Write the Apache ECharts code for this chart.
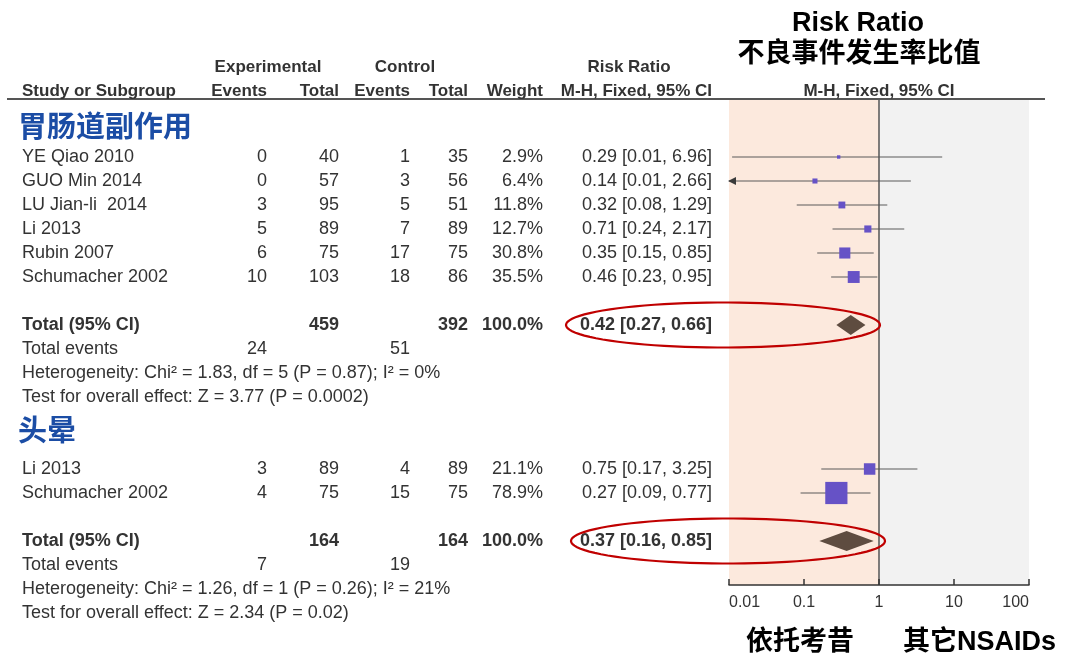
<!DOCTYPE html>
<html>
<head>
<meta charset="utf-8">
<script src="https://cdn.jsdelivr.net/npm/echarts@6/dist/echarts.min.js"></script>
<style>
html, body { margin: 0; background: #fff; }
#chart { width: 1069px; height: 656px; }
</style>
</head>
<body>
<div id="chart"></div>
<script>
// 胃肠道副作用
const g1Studies = ['YE Qiao 2010', 'GUO Min 2014', 'LU Jian-li  2014', 'Li 2013', 'Rubin 2007', 'Schumacher 2002'];
const g1ExpEvents = [0, 0, 3, 5, 6, 10];
const g1ExpTotal = [40, 57, 95, 89, 75, 103];
const g1CtrlEvents = [1, 3, 5, 7, 17, 18];
const g1CtrlTotal = [35, 56, 51, 89, 75, 86];
const g1Weight = [2.9, 6.4, 11.8, 12.7, 30.8, 35.5];
const g1RR = [0.29, 0.14, 0.32, 0.71, 0.35, 0.46];
const g1Lo = [0.011, 0.007, 0.08, 0.24, 0.15, 0.23];
const g1Hi = [6.96, 2.66, 1.29, 2.17, 0.85, 0.95];
const g1Pooled = [0.42, 0.27, 0.66];
const g1TotalN = [459, 392];
const g1TotalEvents = [24, 51];
const g1Het = 'Heterogeneity: Chi² = 1.83, df = 5 (P = 0.87); I² = 0%';
const g1Effect = 'Test for overall effect: Z = 3.77 (P = 0.0002)';

// 头晕
const g2Studies = ['Li 2013', 'Schumacher 2002'];
const g2ExpEvents = [3, 4];
const g2ExpTotal = [89, 75];
const g2CtrlEvents = [4, 15];
const g2CtrlTotal = [89, 75];
const g2Weight = [21.1, 78.9];
const g2RR = [0.75, 0.27];
const g2Lo = [0.17, 0.09];
const g2Hi = [3.25, 0.77];
const g2Pooled = [0.37, 0.16, 0.85];
const g2TotalN = [164, 164];
const g2TotalEvents = [7, 19];
const g2Het = 'Heterogeneity: Chi² = 1.26, df = 1 (P = 0.26); I² = 21%';
const g2Effect = 'Test for overall effect: Z = 2.34 (P = 0.02)';

const axisTicks = [0.01, 0.1, 1, 10, 100];
const axisTickLabels = ['0.01', '0.1', '1', '10', '100'];

// layout
const FONT = "'Liberation Sans', Arial, 'Noto Sans CJK SC', sans-serif";
const TXT = '#333';
const col = { name: 22, expEv: 267, expTot: 339, ctlEv: 410, ctlTot: 468, weight: 543, ci: 712 };

const ciText = (rr, lo, hi) => rr.toFixed(2) + ' [' + lo.toFixed(2) + ', ' + hi.toFixed(2) + ']';

const cells = [];
function cell(x, row, text, align, opts) {
  cells.push(Object.assign({ x: x, row: row, text: String(text), align: align, size: 18, bold: false, color: TXT }, opts || {}));
}

// titles
const bigBlack = { size: 27, bold: true, color: '#000' };
cell(858, -5.55, 'Risk Ratio', 'center', bigBlack);
cell(859, -4.25, '不良事件发生率比值', 'center', bigBlack);
cell(800, 20.25, '依托考昔', 'center', bigBlack);
cell(903, 20.25, '其它NSAIDs', 'left', bigBlack);

// header
const hd = { size: 17, bold: true };
cell(268, -3.75, 'Experimental', 'center', hd);
cell(405, -3.75, 'Control', 'center', hd);
cell(629, -3.75, 'Risk Ratio', 'center', hd);
cell(col.name, -2.75, 'Study or Subgroup', 'left', hd);
cell(col.expEv, -2.75, 'Events', 'right', hd);
cell(col.expTot, -2.75, 'Total', 'right', hd);
cell(col.ctlEv, -2.75, 'Events', 'right', hd);
cell(col.ctlTot, -2.75, 'Total', 'right', hd);
cell(col.weight, -2.75, 'Weight', 'right', hd);
cell(col.ci, -2.75, 'M-H, Fixed, 95% CI', 'right', hd);
cell(879, -2.75, 'M-H, Fixed, 95% CI', 'center', hd);

const forestRows = [];
const pooledRows = [];

function addGroup(title, titleRow, startRow, studies, ee, et, ce, ct, w, rr, lo, hi, pooled, totN, totEv, het, eff, scale) {
  cell(18, titleRow, title, 'left', { size: 29, bold: true, color: '#1B4DA5' });
  studies.forEach((s, i) => {
    const r = startRow + i;
    cell(col.name, r, s, 'left');
    cell(col.expEv, r, ee[i], 'right');
    cell(col.expTot, r, et[i], 'right');
    cell(col.ctlEv, r, ce[i], 'right');
    cell(col.ctlTot, r, ct[i], 'right');
    cell(col.weight, r, w[i].toFixed(1) + '%', 'right');
    cell(col.ci, r, ciText(rr[i], lo[i], hi[i]), 'right');
    forestRows.push({ rr: rr[i], lo: lo[i], hi: hi[i], w: w[i], row: r, scale: scale });
  });
  const tr = startRow + studies.length + 1;
  const b = { bold: true };
  cell(col.name, tr, 'Total (95% CI)', 'left', b);
  cell(col.expTot, tr, totN[0], 'right', b);
  cell(col.ctlTot, tr, totN[1], 'right', b);
  cell(col.weight, tr, '100.0%', 'right', b);
  cell(col.ci, tr, ciText(pooled[0], pooled[1], pooled[2]), 'right', b);
  cell(col.name, tr + 1, 'Total events', 'left');
  cell(col.expEv, tr + 1, totEv[0], 'right');
  cell(col.ctlEv, tr + 1, totEv[1], 'right');
  cell(col.name, tr + 2, het, 'left');
  cell(col.name, tr + 3, eff, 'left');
  pooledRows.push({ rr: pooled[0], lo: pooled[1], hi: pooled[2], row: tr });
}

addGroup('胃肠道副作用', -1.17, 0, g1Studies, g1ExpEvents, g1ExpTotal, g1CtrlEvents, g1CtrlTotal,
  g1Weight, g1RR, g1Lo, g1Hi, g1Pooled, g1TotalN, g1TotalEvents, g1Het, g1Effect, 2.0);
addGroup('头晕', 11.5, 13, g2Studies, g2ExpEvents, g2ExpTotal, g2CtrlEvents, g2CtrlTotal,
  g2Weight, g2RR, g2Lo, g2Hi, g2Pooled, g2TotalN, g2TotalEvents, g2Het, g2Effect, 2.5);

const ellipses = pooledRows.map((p, i) => [i === 0 ? 723 : 728, p.row]);

const chart = echarts.init(document.getElementById('chart'));
chart.setOption({
  animation: false,
  backgroundColor: '#fff',
  grid: [
    { left: 0, width: 1069, top: 61, height: 576, outerBoundsMode: 'none' },
    { left: 729, width: 300, top: 100, height: 485, outerBoundsMode: 'none' }
  ],
  xAxis: [
    { gridIndex: 0, type: 'value', min: 0, max: 1069, show: false },
    {
      gridIndex: 1, type: 'log', logBase: 10, position: 'bottom', z: 20,
      min: axisTicks[0], max: axisTicks[axisTicks.length - 1],
      axisLine: { show: true, onZero: false, lineStyle: { color: '#333', width: 1.5 } },
      axisTick: { show: true, inside: true, length: 6, lineStyle: { color: '#333', width: 1.5 } },
      splitLine: { show: false },
      axisLabel: {
        show: true, margin: 10, color: TXT, fontSize: 16, fontFamily: FONT,
        showMinLabel: true, showMaxLabel: true, alignMinLabel: 'left', alignMaxLabel: 'right',
        formatter: v => { const i = axisTicks.findIndex(t => Math.abs(t - v) / t < 1e-6); return i >= 0 ? axisTickLabels[i] : ''; }
      }
    }
  ],
  yAxis: [
    { gridIndex: 0, type: 'value', inverse: true, min: -4, max: 20, show: false },
    { gridIndex: 1, type: 'value', inverse: true, min: -2.375, max: 17.8333, show: false }
  ],
  series: [
    {
      name: 'table', type: 'custom', xAxisIndex: 0, yAxisIndex: 0, clip: false, silent: true, z: 5,
      data: cells.map(c => [c.x, c.row]),
      renderItem: (params, api) => {
        const c = cells[params.dataIndex];
        const p = api.coord([api.value(0), api.value(1)]);
        return {
          type: 'text', x: p[0], y: p[1],
          style: {
            text: c.text, textAlign: c.align, textVerticalAlign: 'middle',
            fontFamily: FONT, fontSize: c.size, fontWeight: c.bold ? 'bold' : 'normal', fill: c.color
          }
        };
      },
      markLine: {
        silent: true, symbol: 'none', label: { show: false },
        lineStyle: { color: '#555', width: 2, type: 'solid' },
        data: [[{ coord: [7, -2.42] }, { coord: [1045, -2.42] }]]
      }
    },
    {
      name: 'ellipse', type: 'custom', xAxisIndex: 0, yAxisIndex: 0, clip: false, silent: true, z: 10,
      data: ellipses,
      renderItem: (params, api) => {
        const c = api.coord([api.value(0), api.value(1)]);
        const pts = [];
        for (let k = 0; k < 90; k++) {
          const a = k / 90 * Math.PI * 2;
          pts.push([c[0] + 157 * Math.cos(a), c[1] + 22.5 * Math.sin(a)]);
        }
        return { type: 'polygon', shape: { points: pts }, style: { fill: 'none', stroke: '#C00000', lineWidth: 2.2 } };
      }
    },
    {
      name: 'ci', type: 'custom', xAxisIndex: 1, yAxisIndex: 1, clip: false, silent: true, z: 3,
      data: forestRows.map(f => [f.lo, f.row, f.hi]),
      renderItem: (params, api) => {
        const lo = api.value(0), row = api.value(1), hi = api.value(2);
        const min = axisTicks[0];
        const p1 = api.coord([Math.max(lo, min), row]);
        const p2 = api.coord([hi, row]);
        const children = [{
          type: 'line', shape: { x1: p1[0], y1: p1[1], x2: p2[0], y2: p2[1] },
          style: { stroke: '#5a5a5a', lineWidth: 1.2 }
        }];
        if (lo < min) {
          children.push({
            type: 'polygon',
            shape: { points: [[p1[0] - 1, p1[1]], [p1[0] + 7, p1[1] - 4], [p1[0] + 7, p1[1] + 4]] },
            style: { fill: '#3a3a3a' }
          });
        }
        return { type: 'group', children: children };
      },
      markArea: {
        silent: true,
        data: [
          [{ xAxis: 0.01, itemStyle: { color: '#FCE9DD' } }, { xAxis: 1 }],
          [{ xAxis: 1, itemStyle: { color: '#F2F2F2' } }, { xAxis: 100 }]
        ]
      },
      markLine: {
        silent: true, symbol: 'none', label: { show: false },
        lineStyle: { color: '#555', width: 1.5, type: 'solid' },
        data: [{ xAxis: 1 }]
      }
    },
    {
      name: 'g1 studies', type: 'scatter', xAxisIndex: 1, yAxisIndex: 1, silent: true, z: 4,
      symbol: 'rect', itemStyle: { color: '#6652C6', opacity: 1 },
      symbolSize: v => 2.0 * Math.sqrt(v[2]),
      data: forestRows.filter(f => f.scale === 2.0).map(f => [f.rr, f.row, f.w])
    },
    {
      name: 'g2 studies', type: 'scatter', xAxisIndex: 1, yAxisIndex: 1, silent: true, z: 4,
      symbol: 'rect', itemStyle: { color: '#6652C6', opacity: 1 },
      symbolSize: v => 2.5 * Math.sqrt(v[2]),
      data: forestRows.filter(f => f.scale === 2.5).map(f => [f.rr, f.row, f.w])
    },
    {
      name: 'pooled', type: 'custom', xAxisIndex: 1, yAxisIndex: 1, clip: false, silent: true, z: 4,
      data: pooledRows.map(p => [p.rr, p.row, p.lo, p.hi]),
      renderItem: (params, api) => {
        const c = api.coord([api.value(0), api.value(1)]);
        const l = api.coord([api.value(2), api.value(1)]);
        const r = api.coord([api.value(3), api.value(1)]);
        return {
          type: 'polygon',
          shape: { points: [[l[0], c[1]], [c[0], c[1] - 10], [r[0], c[1]], [c[0], c[1] + 10]] },
          style: { fill: '#5E4C40' }
        };
      }
    }
  ]
});
</script>
</body>
</html>
